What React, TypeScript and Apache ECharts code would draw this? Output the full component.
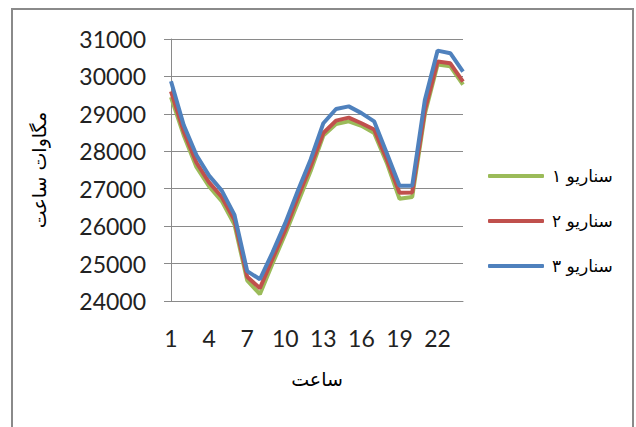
import React, { useEffect, useRef } from "react";
import * as echarts from "echarts";

const hours = Array.from({ length: 24 }, (_, i) => String(i + 1));
const seriesNames = ["سناریو ۱", "سناریو ۲", "سناریو ۳"];
const scenario1 = [29450, 28430, 27580, 27060, 26670, 26040, 24550, 24180, 25000, 25790, 26630, 27470, 28420, 28730, 28800, 28680, 28490, 27690, 26730, 26780, 29000, 30320, 30270, 29780];
const scenario2 = [29600, 28530, 27700, 27170, 26780, 26160, 24650, 24340, 25130, 25900, 26780, 27600, 28490, 28820, 28900, 28750, 28580, 27780, 26890, 26900, 29100, 30400, 30350, 29860];
const scenario3 = [29870, 28700, 27900, 27350, 26950, 26300, 24800, 24580, 25300, 26080, 26950, 27780, 28750, 29130, 29200, 29020, 28800, 27950, 27080, 27080, 29380, 30690, 30620, 30130];
const colors = ["#9BBB59", "#C0504D", "#4F81BD"];
const yAxisTitle = "مگاوات ساعت";
const xAxisTitle = "ساعت";

export default function App() {
  const ref = useRef<HTMLDivElement>(null);
  useEffect(() => {
    if (!ref.current) return;
    const chart = echarts.init(ref.current, null, { renderer: "svg" });
    const font = "Lato, 'DejaVu Sans', sans-serif";
    const data = [scenario1, scenario2, scenario3];
    chart.setOption({
      animation: false,
      backgroundColor: "#ffffff",
      textStyle: { fontFamily: font },
      graphic: [
        {
          type: "rect",
          shape: { x: 12, y: 9, width: 621, height: 440 },
          style: { fill: "none", stroke: "#8a8a8a", lineWidth: 2 },
          silent: true,
        },
      ],
      grid: { left: 171, top: 39, width: 292, height: 262, containLabel: false },
      legend: {
        orient: "vertical",
        left: 483,
        top: 161,
        itemWidth: 56,
        itemHeight: 4,
        itemGap: 25,
        icon: "roundRect",
        data: seriesNames,
        textStyle: {
          fontFamily: "'DejaVu Sans', sans-serif",
          fontSize: 17,
          color: "#000",
          lineHeight: 20,
          padding: [0, 0, 0, 3],
        },
      },
      xAxis: {
        type: "category",
        data: hours,
        boundaryGap: false,
        name: xAxisTitle,
        nameLocation: "middle",
        nameGap: 68,
        nameTextStyle: { fontFamily: "'DejaVu Sans', sans-serif", fontSize: 19, color: "#000" },
        axisLine: { lineStyle: { color: "#8a8a8a", width: 1 } },
        axisTick: { show: false },
        axisLabel: { interval: 2, fontSize: 23, color: "#222", margin: 25, fontFamily: font },
        splitLine: { show: false },
      },
      yAxis: {
        type: "value",
        min: 24000,
        max: 31000,
        interval: 1000,
        name: yAxisTitle,
        nameLocation: "middle",
        nameRotate: 90,
        nameGap: 123,
        nameTextStyle: { fontFamily: "'DejaVu Sans', sans-serif", fontSize: 19, color: "#000" },
        axisLine: { show: true, lineStyle: { color: "#8a8a8a", width: 1 } },
        axisTick: { show: true, inside: false, length: 7, lineStyle: { color: "#8a8a8a" } },
        axisLabel: {
          fontSize: 23,
          color: "#222",
          margin: 25,
          fontFamily: font,
          formatter: (v: number) => String(v),
        },
        splitLine: { show: true, lineStyle: { color: "#8a8a8a", width: 1 } },
      },
      series: data.map((d, i) => ({
        name: seriesNames[i],
        type: "line",
        data: d,
        showSymbol: false,
        symbol: "none",
        smooth: false,
        lineStyle: { color: colors[i], width: 4 },
        itemStyle: { color: colors[i] },
        z: 2 + i,
      })),
    });
    return () => chart.dispose();
  }, []);
  return (
    <div
      ref={ref}
      style={{ position: "absolute", left: 0, top: 0, width: 636, height: 427 }}
    />
  );
}
